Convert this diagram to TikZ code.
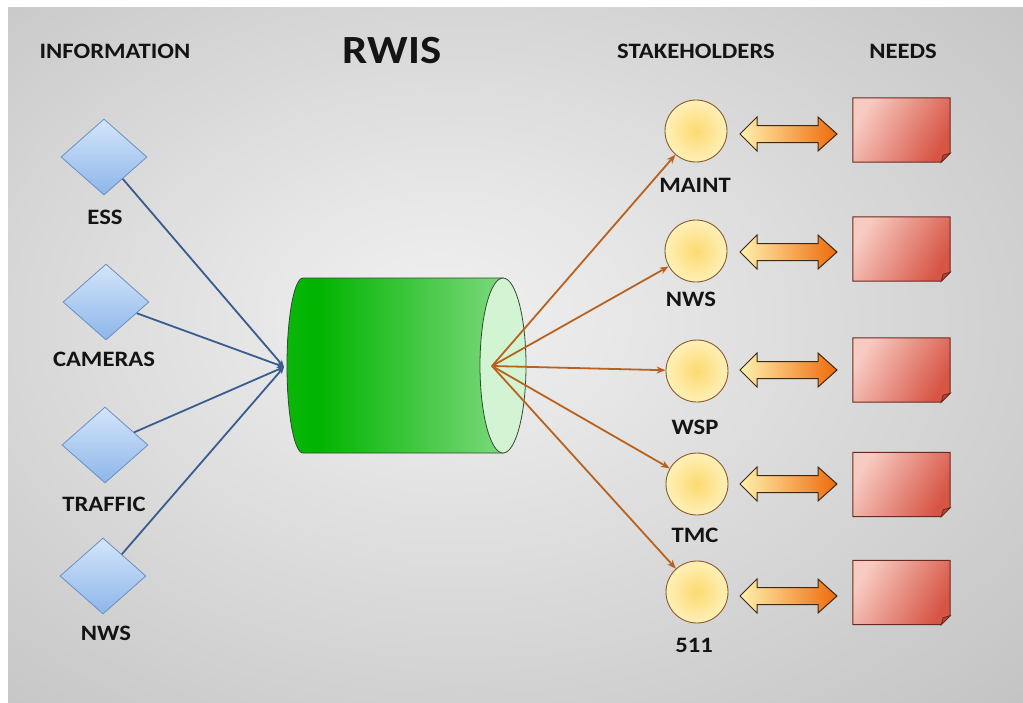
\documentclass[tikz,border=0pt]{standalone}
\usepackage{fontspec}
\newfontfamily\lblfont[FakeStretch=1.12]{Carlito}
\usetikzlibrary{shapes.geometric,arrows.meta,calc}
\definecolor{bgc}{HTML}{F0F0F0}
\definecolor{bga}{HTML}{E8E8E8}
\definecolor{bgm}{HTML}{CDCDCD}
\definecolor{bge}{HTML}{B5B5B5}
\definecolor{bgk}{HTML}{A4A4A4}
\definecolor{txt}{HTML}{141414}
\definecolor{dia1}{HTML}{D4E5FA}
\definecolor{dia2}{HTML}{8DB6EA}
\definecolor{diaedge}{HTML}{6A8FC2}
\definecolor{blueline}{HTML}{3A5D8F}
\definecolor{orangeline}{HTML}{B9621F}
\definecolor{cyl1}{HTML}{2EC12E}
\definecolor{cyl2}{HTML}{00B400}
\definecolor{cyl3}{HTML}{C4EEC4}
\definecolor{cylface}{HTML}{D2F4D2}
\definecolor{cyledge}{HTML}{2F4A2F}
\definecolor{circin}{HTML}{FCDA70}
\definecolor{circout}{HTML}{FFF0B8}
\definecolor{circedge}{HTML}{8A5A28}
\definecolor{arrowl}{HTML}{FFF2AE}
\definecolor{arrowr}{HTML}{EE6A0C}
\definecolor{arrowedge}{HTML}{3E2812}
\definecolor{note1}{HTML}{F8CBC2}
\definecolor{note2}{HTML}{D65545}
\definecolor{noteedge}{HTML}{6A2A20}
\definecolor{fold}{HTML}{B8473A}
\pgfdeclareradialshading{bgshade}{\pgfpoint{-4bp}{3bp}}{color(0bp)=(bgc); color(8bp)=(bga); color(30bp)=(bgm); color(50bp)=(bge); color(72bp)=(bgk)}
\pgfdeclarehorizontalshading{cylshade}{100bp}{color(0bp)=(cyl1); color(32bp)=(cyl2); color(100bp)=(cyl3)}
\begin{document}
\begin{tikzpicture}[x=1pt,y=-1pt,
  lbl/.style={font=\lblfont\bfseries\fontsize{22}{24}\selectfont, text=txt, inner sep=0pt},
  info/.style={diamond, minimum width=86pt, minimum height=76pt, inner sep=0pt, draw=diaedge, line width=0.8pt, top color=dia1, bottom color=dia2},
  stake/.style={circle, minimum size=62pt, inner sep=0pt, draw=circedge, line width=0.9pt, inner color=circin, outer color=circout},
  needph/.style={minimum width=97pt, minimum height=64pt, inner sep=0pt},
  inconn/.style={draw=blueline, line width=1.8pt, -{Stealth[length=7pt,width=6pt]}},
  outconn/.style={draw=orangeline, line width=1.8pt, -{Stealth[length=9pt,width=7pt]}},
  dbl/.style={draw=arrowedge, line width=1pt, left color=arrowl, right color=arrowr},
  note/.style={draw=noteedge, line width=1pt, left color=note1, right color=note2, shading angle=60},
  foldst/.style={draw=noteedge, line width=0.8pt, fill=fold}
]
\useasboundingbox (0,0) rectangle (1023,702);
\fill[white] (0,0) rectangle (1023,702);
\shade[shading=bgshade] (8,7) rectangle (1023,702);

% headers
\node[lbl] (hInfo) at (115,51) {INFORMATION};
\node[lbl, font=\lblfont\bfseries\fontsize{40}{44}\selectfont] (hRwis) at (392,51) {RWIS};
\node[lbl] (hStake) at (696,51) {STAKEHOLDERS};
\node[lbl] (hNeeds) at (903,51) {NEEDS};

% information sources
\node[info] (d1) at (104,157) {};
\node[info] (d2) at (106,302) {};
\node[info] (d3) at (105,445) {};
\node[info] (d4) at (103,576) {};
\node[lbl] (l1) at (105,217) {ESS};
\node[lbl] (l2) at (104,359) {CAMERAS};
\node[lbl] (l3) at (104,504) {TRAFFIC};
\node[lbl] (l4) at (106,633) {NWS};

% cylinder
\shade[shading=cylshade, draw=cyledge, line width=0.8pt]
  (303,278) -- (503,278) -- (503,453) -- (303,453)
  arc[start angle=90, end angle=270, x radius=16, y radius=87.5] -- cycle;
\filldraw[fill=cylface, draw=cyledge, line width=0.8pt] (503,365.5) ellipse [x radius=23, y radius=87.5];
\coordinate (hubin) at (284,367);
\coordinate (hubout) at (492,366);

\foreach \d in {d1,d2,d3,d4} { \draw[inconn] (\d) -- (hubin); }

% stakeholders
\node[stake] (s1) at (696,131) {};
\node[stake] (s2) at (696,251) {};
\node[stake] (s3) at (697,371) {};
\node[stake] (s4) at (697,484) {};
\node[stake] (s5) at (697,592) {};
\node[lbl] (t1) at (695,185) {MAINT};
\node[lbl] (t2) at (691,299) {NWS};
\node[lbl] (t3) at (695,427) {WSP};
\node[lbl] (t4) at (695,535) {TMC};
\node[lbl] (t5) at (694,645) {511};

\foreach \s in {s1,s2,s3,s4,s5} { \draw[outconn] (hubout) -- (\s); }

% needs
\node[needph] (n1) at (901.5,130) {};
\node[needph] (n2) at (901.5,249) {};
\node[needph] (n3) at (901.5,370) {};
\node[needph] (n4) at (901.5,484.5) {};
\node[needph] (n5) at (901.5,592.5) {};
\foreach \n in {n1,n2,n3,n4,n5} {
  \path[note] (\n.north west) -- (\n.north east) -- ($(\n.south east)+(0,-9)$)
     -- ($(\n.south east)+(-9,0)$) -- (\n.south west) -- cycle;
  \filldraw[foldst] ($(\n.south east)+(0,-9)$) -- ($(\n.south east)+(-9,0)$)
     -- ($(\n.south east)+(-7,-7)$) -- cycle;
}

% double arrows
\foreach \y in {134,252,370,484,596} {
  \path[dbl] (740,\y) -- (757,\y-17) -- (757,\y-8.5) -- (818,\y-8.5) -- (818,\y-17)
     -- (837,\y) -- (818,\y+17) -- (818,\y+8.5) -- (757,\y+8.5) -- (757,\y+17) -- cycle;
}
\end{tikzpicture}
\end{document}
